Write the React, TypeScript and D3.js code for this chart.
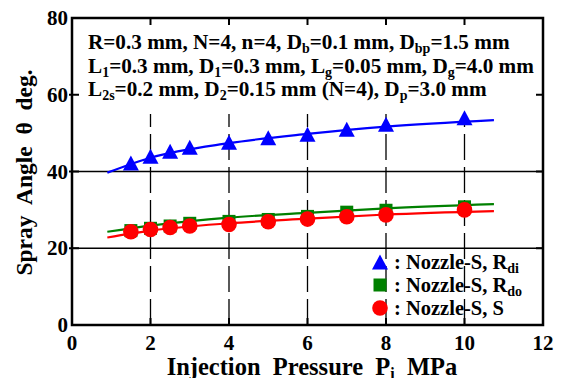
import React from "react";
import * as d3 from "d3";

// measured points (injection pressure, MPa)
const pressure = [1.5, 2, 2.5, 3, 4, 5, 6, 7, 8, 10];
const angleRdi = [42.2, 44.0, 45.3, 46.3, 47.6, 48.8, 49.7, 51.0, 52.3, 54.0];
const angleRdo = [24.6, 25.2, 25.8, 26.5, 27.0, 27.5, 28.3, 29.4, 29.9, 30.8];
const angleS = [24.3, 24.9, 25.4, 25.8, 26.2, 26.9, 27.6, 28.2, 28.7, 30.0];

// fitted curves
const fitP = [0.9, 2, 4, 6, 8, 10.75];
const fitRdi = [39.7, 43.6, 47.4, 49.8, 51.7, 53.4];
const fitRdo = [24.3, 25.9, 28.0, 29.2, 30.4, 31.5];
const fitS = [22.8, 24.6, 26.5, 27.7, 28.8, 29.7];

const xTicks = [0, 2, 4, 6, 8, 10, 12];
const yTicks = [0, 20, 40, 60, 80];
const gridX = [2, 4, 6, 8, 10];
const gridY = [20, 40];

// annotation lines: [text, isSubscript]
const noteLines: [string, boolean][][] = [
  [["R=0.3 mm, N=4, n=4, D", false], ["b", true], ["=0.1 mm, D", false], ["bp", true], ["=1.5 mm", false]],
  [["L", false], ["1", true], ["=0.3 mm, D", false], ["1", true], ["=0.3 mm, L", false], ["g", true], ["=0.05 mm, D", false], ["g", true], ["=4.0 mm", false]],
  [["L", false], ["2s", true], ["=0.2 mm, D", false], ["2", true], ["=0.15 mm (N=4), D", false], ["p", true], ["=3.0 mm", false]],
];

const legendItems = [
  { label: ": Nozzle-S, R", sub: "di", shape: "triangle", color: "#0000ff" },
  { label: ": Nozzle-S, R", sub: "do", shape: "square", color: "#008000" },
  { label: ": Nozzle-S, S", sub: "", shape: "circle", color: "#ff0000" },
];

const FONT = '"Liberation Serif", "Times New Roman", serif';

const Rich = ({ parts, size, subSize, drop = 5 }: { parts: [string, boolean][]; size: number; subSize: number; drop?: number }) => {
  let down = false;
  return (
    <>
      {parts.map(([t, sub], i) => {
        let dy = 0;
        if (sub && !down) { dy = drop; down = true; }
        else if (!sub && down) { dy = -drop; down = false; }
        return (
          <tspan key={i} dy={dy} style={{ fontSize: sub ? subSize : size }}>{t}</tspan>
        );
      })}
    </>
  );
};

const marker = (shape: string, cx: number, cy: number, color: string, key?: any) => {
  if (shape === "triangle") {
    const w = 16, h = 15;
    return <path key={key} d={`M${cx},${cy - h / 2}L${cx + w / 2},${cy + h / 2}L${cx - w / 2},${cy + h / 2}Z`} fill={color} />;
  }
  if (shape === "square") {
    const s = 13;
    return <rect key={key} x={cx - s / 2} y={cy - s / 2} width={s} height={s} fill={color} />;
  }
  return <circle key={key} cx={cx} cy={cy} r={7.8} fill={color} />;
};

export default function App() {
  const W = 564, H = 378;
  const x = d3.scaleLinear().domain([0, 12]).range([72, 543]);
  const y = d3.scaleLinear().domain([0, 80]).range([325, 18]);

  const line = d3.line<number>()
    .x((_, i) => x(fitP[i]))
    .y((d) => y(d))
    .curve(d3.curveMonotoneX);

  const series = [
    { vals: angleRdi, fit: fitRdi, shape: "triangle", color: "#0000ff" },
    { vals: angleRdo, fit: fitRdo, shape: "square", color: "#008000" },
    { vals: angleS, fit: fitS, shape: "circle", color: "#ff0000" },
  ];

  const txt = { fontFamily: FONT, fontWeight: 700 as const };

  return (
    <svg width={W} height={H} style={{ position: "absolute", left: 0, top: 0, background: "#fff", fontFamily: FONT, fontWeight: 700 }}>
      {/* grid */}
      {gridY.map((v) => (
        <line key={"gy" + v} x1={x(0)} x2={x(12)} y1={y(v)} y2={y(v)} stroke="#000" strokeWidth={1.3} />
      ))}
      {gridX.map((v) => (
        <line key={"gx" + v} x1={x(v)} x2={x(v)} y1={y(0)} y2={y(55)} stroke="#000" strokeWidth={1.3} strokeDasharray="26,7" />
      ))}

      {/* ticks */}
      {xTicks.slice(1, -1).map((v) => (
        <g key={"xt" + v}>
          <line x1={x(v)} x2={x(v)} y1={y(0)} y2={y(0) - 7} stroke="#000" strokeWidth={2} />
          <line x1={x(v)} x2={x(v)} y1={y(80)} y2={y(80) + 7} stroke="#000" strokeWidth={2} />
        </g>
      ))}
      {yTicks.slice(1, -1).map((v) => (
        <g key={"yt" + v}>
          <line x1={x(0) - 3} x2={x(0) + 7} y1={y(v)} y2={y(v)} stroke="#000" strokeWidth={2} />
          <line x1={x(12)} x2={x(12) - 7} y1={y(v)} y2={y(v)} stroke="#000" strokeWidth={2} />
        </g>
      ))}

      {/* fit lines */}
      {series.map((s, i) => (
        <path key={"fit" + i} d={line(s.fit) || ""} fill="none" stroke={s.color} strokeWidth={2.2} />
      ))}

      {/* markers */}
      {series.map((s) => s.vals.map((v, i) => marker(s.shape, x(pressure[i]), y(v), s.color, s.shape + i)))}

      {/* frame */}
      <rect x={x(0)} y={y(80)} width={x(12) - x(0)} height={y(0) - y(80)} fill="none" stroke="#000" strokeWidth={2.5} />

      {/* tick labels */}
      {xTicks.map((v) => (
        <text key={"xl" + v} x={x(v)} y={350} textAnchor="middle" style={{ ...txt, fontSize: 21 }}>{v}</text>
      ))}
      {yTicks.map((v) => (
        <text key={"yl" + v} x={68} y={y(v) + 7} textAnchor="end" style={{ ...txt, fontSize: 21 }}>{v}</text>
      ))}

      {/* annotation */}
      {noteLines.map((parts, i) => (
        <text key={"note" + i} x={88} y={49 + i * 23.5} style={{ ...txt, fontSize: 21.2 }}>
          <Rich parts={parts} size={21.2} subSize={14} drop={4} />
        </text>
      ))}

      {/* legend */}
      {legendItems.map((it, i) => (
        <g key={"leg" + i}>
          {marker(it.shape, 380, 262 + i * 23, it.color)}
          <text x={394} y={269 + i * 23} style={{ ...txt, fontSize: 20.5 }}>
            <Rich parts={[[it.label, false], [it.sub, true]]} size={20.5} subSize={14} drop={4} />
          </text>
        </g>
      ))}

      {/* axis titles */}
      <text x={312} y={375} textAnchor="middle" style={{ ...txt, fontSize: 24.5, whiteSpace: "pre" }}>
        <Rich parts={[["Injection  Pressure  P", false], ["i", true], ["  MPa", false]]} size={24.5} subSize={16} drop={4} />
      </text>
      <text transform={`translate(32,${172.5}) rotate(-90)`} textAnchor="middle" style={{ ...txt, fontSize: 23.5, whiteSpace: "pre" }}>
        Spray  Angle  θ  deg.
      </text>
    </svg>
  );
}
